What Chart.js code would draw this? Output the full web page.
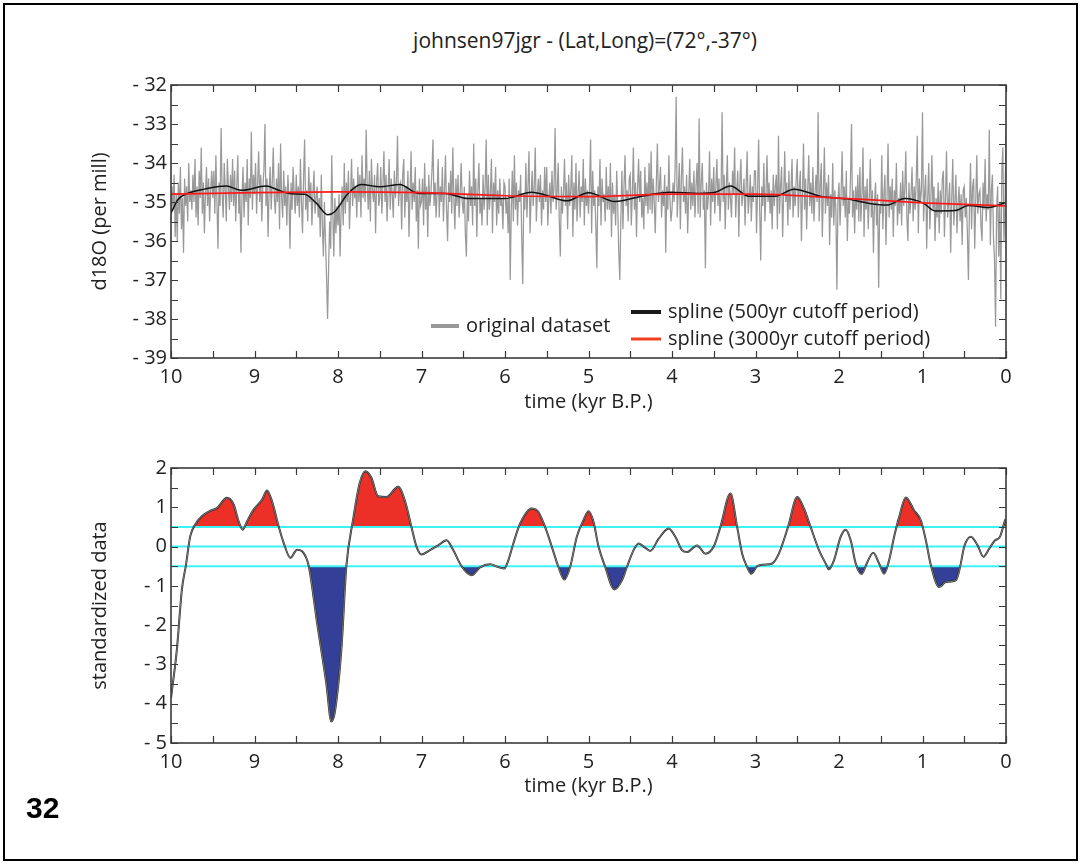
<!DOCTYPE html>
<html>
<head>
<meta charset="utf-8">
<script src="https://cdn.jsdelivr.net/npm/chart.js@4"></script>
<style>
  html, body { margin: 0; padding: 0; background: #fff; }
  body { width: 1081px; height: 865px; position: relative; overflow: hidden; font-family: "Open Sans", sans-serif; color: #222; }
  #frame { position: absolute; left: 3px; top: 3px; width: 1071px; height: 854px; border: 2px solid #000; }
  #title { position: absolute; left: 185px; width: 800px; top: 25px; text-align: center; font-size: 21px; line-height: 30px; }
  #page { position: absolute; left: 26px; top: 791px; font: bold 30px/34px "Liberation Sans", Arial, sans-serif; color: #000; }
  .box { position: absolute; left: 0; }
</style>
</head>
<body>
<div id="frame"></div>
<div id="title">johnsen97jgr - (Lat,Long)=(72°,-37°)</div>
<div class="box" style="top:0"><canvas id="top" width="1081" height="418"></canvas></div>
<div class="box" style="top:430px"><canvas id="bottom" width="1081" height="372"></canvas></div>
<div id="page">32</div>
<script>
// d18O record, one value every 12.5 yr from 10 kyr B.P. to present
const RAW_START = 10;
const RAW_STEP = 0.0125;
const rawD18O = [
  -35.5, -34.6, -35.2, -34.3, -35.9, -34.8, -36.0, -34.5, -35.3, -34.1, -35.7, -34.9, -36.3, -34.4, -35.1, -34.6, -35.5, -34.0, -35.0, -34.7,
  -35.2, -34.3, -35.0, -33.9, -35.4, -34.6, -35.6, -34.2, -34.9, -33.6, -35.3, -34.5, -35.8, -34.8, -34.1, -35.1, -34.4, -35.5, -34.7, -34.2,
  -34.9, -34.2, -35.3, -33.8, -35.0, -36.2, -34.5, -35.1, -33.1, -34.8, -35.4, -34.0, -34.7, -35.5, -33.9, -34.6, -35.2, -34.3, -35.0, -33.9,
  -35.1, -34.2, -35.5, -34.6, -33.8, -35.3, -34.7, -36.3, -34.9, -34.1, -35.4, -34.5, -35.0, -33.9, -35.6, -34.4, -34.9, -33.2, -35.2, -34.3,
  -34.8, -34.0, -35.3, -34.5, -33.7, -35.0, -34.3, -35.5, -34.6, -34.2, -33.0, -35.1, -34.4, -35.9, -34.7, -34.1, -35.2, -34.5, -33.6, -34.9,
  -35.3, -34.4, -35.0, -34.0, -35.7, -33.5, -34.9, -35.4, -34.2, -35.1, -34.6, -35.6, -34.3, -34.9, -36.2, -34.5, -35.2, -34.1, -34.8, -35.3,
  -34.3, -35.1, -34.6, -35.4, -33.9, -35.0, -35.8, -34.4, -33.4, -35.2, -34.7, -35.5, -34.1, -35.0, -34.5, -35.6, -34.8, -34.2, -35.3, -34.9,
  -34.6, -35.4, -34.9, -35.9, -34.3, -35.6, -36.4, -35.0, -36.0, -36.9, -38.0, -36.7, -35.5, -36.2, -33.8, -35.3, -36.4, -34.9, -35.8, -35.1,
  -35.6, -34.8, -36.4, -35.2, -34.6, -35.6, -34.0, -35.3, -34.5, -35.0, -34.2, -35.7, -34.8, -33.9, -35.1, -34.4, -34.9, -34.6, -35.4, -34.1,
  -35.0, -34.3, -35.4, -33.8, -34.9, -34.4, -35.0, -33.15, -34.6, -35.2, -34.2, -35.5, -33.9, -34.7, -35.0, -34.3, -35.8, -34.5, -34.0, -35.1,
  -34.9, -34.1, -35.3, -34.6, -33.7, -35.0, -34.3, -35.5, -34.7, -33.9, -35.2, -34.4, -34.8, -35.4, -34.2, -34.9, -34.5, -33.3, -35.1, -34.6,
  -34.5, -35.7, -34.3, -33.9, -35.4, -34.6, -35.0, -34.2, -35.9, -34.8, -33.7, -35.2, -34.5, -35.0, -34.1, -35.5, -34.7, -36.2, -34.4, -35.1,
  -35.0, -34.4, -35.6, -34.0, -35.2, -34.6, -35.9, -34.3, -35.1, -34.8, -34.2, -33.4, -35.1, -34.5, -35.4, -34.7, -33.9, -35.4, -34.6, -35.0,
  -34.1, -35.5, -34.7, -33.8, -35.2, -36.0, -34.5, -35.0, -34.2, -35.3, -33.6, -34.9, -35.7, -34.4, -35.1, -34.3, -35.4, -34.8, -34.0, -35.0,
  -35.3, -34.6, -35.8, -36.4, -34.8, -35.5, -34.2, -35.1, -34.6, -35.6, -33.5, -35.1, -34.4, -35.9, -34.7, -34.0, -35.3, -34.9, -35.6, -34.3,
  -35.2, -34.6, -33.4, -35.6, -34.3, -35.2, -34.8, -33.9, -35.8, -34.5, -35.0, -34.1, -35.6, -34.7, -35.3, -34.4, -35.1, -34.9, -35.7, -34.5,
  -34.6, -35.3, -34.9, -35.8, -34.4, -37.0, -35.2, -34.2, -35.5, -33.8, -35.2, -34.5, -35.6, -34.7, -35.0, -34.3, -35.9, -37.1, -34.8, -35.2,
  -34.0, -35.4, -34.6, -33.7, -35.8, -34.9, -34.2, -35.1, -34.6, -33.6, -35.5, -34.8, -34.4, -35.0, -34.3, -35.6, -34.7, -35.2, -34.1, -35.0,
  -34.1, -35.6, -34.9, -34.5, -35.3, -34.2, -35.0, -34.6, -33.1, -35.2, -34.7, -34.0, -35.5, -36.4, -34.6, -35.3, -34.8, -33.9, -35.1, -34.5,
  -35.7, -34.3, -35.1, -34.7, -33.8, -35.9, -34.5, -35.2, -34.0, -35.5, -34.8, -34.2, -35.4, -34.6, -35.0, -33.9, -35.6, -34.4, -35.1, -34.7,
  -35.3, -34.6, -33.4, -35.8, -34.2, -35.1, -34.7, -35.6, -36.7, -34.6, -35.1, -33.9, -35.6, -34.4, -35.0, -34.8, -35.5, -34.1, -35.2, -34.6,
  -35.2, -34.0, -35.9, -34.5, -35.3, -34.8, -35.6, -34.2, -35.1, -36.3, -37.0, -35.4, -34.2, -35.7, -34.6, -33.8, -35.1, -34.7, -35.5, -34.4,
  -34.3, -35.6, -34.8, -33.6, -35.2, -34.5, -35.9, -34.6, -33.9, -35.0, -34.2, -35.4, -34.9, -35.7, -34.1, -35.1, -34.5, -35.3, -34.0, -35.2,
  -33.7, -35.3, -34.4, -35.0, -35.8, -34.5, -33.5, -35.0, -34.6, -34.1, -35.4, -34.7, -35.1, -34.3, -36.3, -34.6, -35.2, -33.8, -34.9, -35.5,
  -35.2, -34.5, -35.0, -34.1, -32.3, -35.4, -34.7, -34.0, -35.7, -34.4, -33.6, -35.0, -34.6, -35.3, -34.3, -35.8, -34.8, -33.9, -35.2, -34.5,
  -35.1, -34.2, -35.4, -34.6, -34.0, -35.3, -32.85, -35.4, -34.5, -34.0, -35.2, -34.7, -36.7, -34.5, -35.2, -34.8, -33.7, -35.6, -34.4, -35.0,
  -34.1, -35.3, -34.6, -33.9, -35.1, -34.4, -35.5, -34.8, -32.7, -35.0, -34.3, -35.7, -34.6, -33.8, -35.2, -34.5, -34.9, -35.4, -34.2, -34.8,
  -33.6, -35.4, -34.7, -34.2, -35.9, -34.5, -33.9, -35.1, -34.8, -34.4, -35.6, -34.6, -33.7, -35.3, -34.9, -34.3, -35.5, -34.6, -35.0, -34.2,
  -34.2, -35.8, -34.7, -33.4, -35.2, -36.5, -34.6, -35.1, -34.0, -35.5, -34.8, -33.8, -35.0, -34.5, -35.3, -34.7, -35.7, -34.3, -35.1, -34.6,
  -34.3, -35.7, -33.3, -35.3, -34.6, -34.1, -35.9, -34.8, -33.7, -35.0, -34.5, -35.6, -34.2, -35.2, -34.7, -33.9, -35.4, -34.6, -35.1, -34.4,
  -33.9, -35.4, -34.6, -34.2, -36.0, -34.8, -33.5, -35.2, -34.4, -35.7, -34.7, -33.8, -35.1, -34.5, -35.3, -34.1, -35.5, -34.8, -34.3, -35.0,
  -32.7, -35.5, -34.6, -34.0, -35.9, -34.8, -33.6, -35.3, -34.5, -35.1, -34.3, -36.1, -34.8, -35.4, -34.0, -35.6, -34.7, -35.2, -37.25, -34.9,
  -34.5, -35.6, -34.8, -33.7, -35.1, -34.6, -35.4, -34.2, -36.0, -34.9, -35.3, -34.4, -33.0, -35.4, -34.7, -35.8, -34.6, -35.2, -34.3, -35.5,
  -34.1, -35.5, -34.8, -33.6, -35.9, -34.6, -35.2, -34.4, -35.7, -34.9, -33.9, -35.4, -34.7, -36.3, -35.0, -34.5, -35.6, -34.8, -37.2, -35.1,
  -35.3, -33.8, -35.7, -34.8, -34.3, -36.1, -34.9, -33.5, -35.4, -34.6, -35.2, -34.4, -35.9, -34.7, -35.1, -34.0, -35.6, -34.9, -35.3, -34.5,
  -35.6, -34.2, -35.1, -34.7, -33.7, -35.4, -36.0, -34.5, -35.3, -34.8, -34.1, -35.5, -34.6, -35.2, -34.4, -33.3, -35.8, -34.4, -35.0, -34.7,
  -32.7, -35.5, -34.8, -34.3, -36.2, -34.9, -34.0, -35.7, -35.0, -33.8, -35.2, -34.6, -36.0, -34.9, -35.4, -34.5, -35.8, -34.7, -35.3, -34.4,
  -34.2, -35.9, -34.9, -33.7, -35.4, -35.0, -34.5, -36.3, -34.9, -33.9, -35.6, -35.0, -34.3, -35.8, -35.1, -34.6, -35.5, -34.8, -36.1, -34.7,
  -34.6, -35.4, -34.9, -35.8, -37.0, -35.1, -34.0, -35.7, -34.6, -34.4, -36.2, -35.0, -33.8, -35.3, -34.8, -34.7, -35.6, -36.0, -34.5, -35.2,
  -33.9, -35.5, -34.8, -35.2, -33.15, -36.1, -34.7, -34.3, -35.9, -36.5, -38.2, -35.2, -34.6, -36.4, -35.0, -37.5, -34.2, -33.6, -36.0, -35.2,
  -33.1
];

// 500 yr cutoff spline
const spline500Age = [10.0, 9.92, 9.76, 9.60, 9.34, 9.16, 8.86, 8.72, 8.56, 8.40, 8.26, 8.12, 8.04, 7.88, 7.72,
  7.50, 7.26, 7.04, 6.72, 6.44, 6.00, 5.68, 5.52, 5.26, 5.00, 4.68, 4.36, 4.02, 3.68, 3.48, 3.30, 3.08,
  2.76, 2.54, 2.21, 1.91, 1.65, 1.43, 1.21, 0.99, 0.85, 0.61, 0.45, 0.21, 0.0];
const spline500 = [-35.29, -34.95, -34.75, -34.67, -34.59, -34.70, -34.59, -34.69, -34.79, -34.80, -35.03, -35.33, -35.25, -34.78, -34.55,
  -34.61, -34.55, -34.78, -34.78, -34.91, -34.91, -34.75, -34.82, -34.97, -34.76, -34.99, -34.85, -34.75, -34.78, -34.75, -34.59, -34.85,
  -34.85, -34.67, -34.86, -34.92, -35.03, -35.08, -34.91, -35.03, -35.23, -35.22, -35.09, -35.14, -35.01];

// 3000 yr cutoff spline
const spline3000Age = [10, 9, 8, 7, 6, 5, 4, 3, 2, 1, 0];
const spline3000 = [-34.80, -34.76, -34.74, -34.76, -34.84, -34.86, -34.80, -34.80, -34.90, -35.02, -35.10];

// standardized 500 yr spline
const stdAge = [10.0, 9.93, 9.87, 9.82, 9.77, 9.71, 9.63, 9.53, 9.45, 9.33, 9.25, 9.19, 9.14, 9.09, 9.01, 8.91, 8.85, 8.79,
  8.71, 8.65, 8.57, 8.49, 8.43, 8.35, 8.25, 8.14, 8.08, 8.04, 7.96, 7.90, 7.82, 7.74, 7.67, 7.60, 7.52, 7.42, 7.28,
  7.20, 7.12, 7.06, 7.00, 6.90, 6.80, 6.70, 6.62, 6.52, 6.40, 6.30, 6.18, 6.08, 6.01, 5.96, 5.90, 5.82, 5.68, 5.60,
  5.52, 5.44, 5.36, 5.29, 5.22, 5.14, 5.06, 5.00, 4.94, 4.88, 4.80, 4.69, 4.60, 4.54, 4.46, 4.40, 4.34, 4.26, 4.16,
  4.04, 3.96, 3.88, 3.82, 3.70, 3.60, 3.50, 3.42, 3.30, 3.22, 3.16, 3.10, 3.05, 2.98, 2.90, 2.80, 2.72, 2.61, 2.50,
  2.42, 2.34, 2.24, 2.16, 2.12, 2.06, 1.98, 1.92, 1.86, 1.80, 1.73, 1.66, 1.59, 1.52, 1.46, 1.40, 1.34, 1.28, 1.20,
  1.10, 1.02, 0.96, 0.90, 0.80, 0.72, 0.60, 0.55, 0.50, 0.42, 0.34, 0.27, 0.20, 0.14, 0.07, 0.01, 0.0];
const stdValue = [-3.85, -2.63, -1.10, -0.46, 0.26, 0.56, 0.77, 0.91, 0.98, 1.24, 1.07, 0.64, 0.43, 0.64, 0.94, 1.19, 1.43, 1.15,
  0.51, 0.09, -0.29, -0.08, -0.12, -0.50, -1.95, -3.48, -4.45, -4.24, -2.63, -0.50, 0.68, 1.62, 1.92, 1.75, 1.28, 1.26, 1.52,
  1.18, 0.50, 0.00, -0.20, -0.09, 0.03, 0.16, -0.09, -0.50, -0.73, -0.53, -0.45, -0.52, -0.56, -0.35, 0.08, 0.58, 0.97, 0.88,
  0.50, 0.00, -0.52, -0.84, -0.52, 0.25, 0.67, 0.90, 0.63, 0.00, -0.52, -1.09, -0.86, -0.52, -0.09, 0.08, 0.00, -0.11, 0.20,
  0.46, 0.25, -0.09, -0.14, 0.03, -0.18, 0.00, 0.50, 1.35, 0.50, -0.18, -0.52, -0.69, -0.50, -0.46, -0.43, -0.18, 0.50, 1.26,
  0.97, 0.50, -0.09, -0.43, -0.58, -0.35, 0.25, 0.43, 0.16, -0.43, -0.70, -0.39, -0.16, -0.43, -0.69, -0.35, 0.25, 0.75, 1.25,
  0.92, 0.67, 0.16, -0.47, -1.03, -0.90, -0.86, -0.52, 0.00, 0.25, 0.03, -0.26, -0.05, 0.14, 0.26, 0.67, 0.70];
// cold events are only shaded once the curve has left the start-up edge
const COLD_FROM = 4;

// warm / cold thresholds
const thresholds = [0.5, 0, -0.5];

const pts = (xs, ys) => xs.map((x, i) => ({ x, y: ys[i] }));
const rawPoints = rawD18O.map((v, i) => ({ x: RAW_START - i * RAW_STEP, y: v }));
const stdPoints = pts(stdAge, stdValue);

const FONT = { family: '"Open Sans", sans-serif', size: 20 };
const INK = '#222';
const minusLabel = v => (v < 0 ? '- ' + Math.abs(v) : String(v));

// box with inward ticks every half unit on all four sides
const frameTicks = {
  id: 'frameTicks',
  afterDatasetsDraw(chart) {
    const { ctx, chartArea: a, scales: { x, y } } = chart;
    ctx.save();
    ctx.strokeStyle = '#3a3a3a';
    ctx.lineWidth = 1.2;
    ctx.beginPath();
    for (let v = x.min; v <= x.max + 1e-9; v += 0.5) {
      const px = Math.round(x.getPixelForValue(v)) + 0.5;
      ctx.moveTo(px, a.top); ctx.lineTo(px, a.top + 7);
      ctx.moveTo(px, a.bottom); ctx.lineTo(px, a.bottom - 7);
    }
    for (let v = y.min; v <= y.max + 1e-9; v += 0.5) {
      const py = Math.round(y.getPixelForValue(v)) + 0.5;
      ctx.moveTo(a.left, py); ctx.lineTo(a.left + 7, py);
      ctx.moveTo(a.right, py); ctx.lineTo(a.right - 7, py);
    }
    ctx.stroke();
    ctx.lineWidth = 1.6;
    ctx.strokeRect(a.left, a.top, a.right - a.left, a.bottom - a.top);
    ctx.restore();
  }
};

// legend placed inside the lower part of the top panel
const insideLegend = {
  id: 'insideLegend',
  afterDraw(chart) {
    const { ctx } = chart;
    const rows = [
      { sw: [431, 459, 326], color: '#999', w: 4, text: 'original dataset', tx: 466 },
      { sw: [631, 661, 312], color: '#1a1a1a', w: 4, text: 'spline (500yr cutoff period)', tx: 668 },
      { sw: [631, 661, 339], color: '#f04020', w: 3, text: 'spline (3000yr cutoff period)', tx: 668 }
    ];
    ctx.save();
    ctx.font = FONT.size + 'px ' + FONT.family;
    ctx.textBaseline = 'middle';
    ctx.fillStyle = INK;
    rows.forEach(r => {
      ctx.strokeStyle = r.color;
      ctx.lineWidth = r.w;
      ctx.beginPath();
      ctx.moveTo(r.sw[0], r.sw[2]);
      ctx.lineTo(r.sw[1], r.sw[2]);
      ctx.stroke();
      ctx.fillText(r.text, r.tx, r.sw[2]);
    });
    ctx.restore();
  }
};

const xScale = (height) => ({
  type: 'linear', min: 0, max: 10, reverse: true,
  grid: { display: false, drawTicks: false },
  border: { display: false },
  ticks: { stepSize: 1, padding: 7, color: INK, font: FONT, maxRotation: 0 },
  title: { display: true, text: 'time (kyr B.P.)', color: INK, font: FONT, padding: { top: 0, bottom: 4 } },
  afterFit(s) { s.height = height; }
});

const yScale = (min, max, title) => ({
  min, max,
  grid: { display: false, drawTicks: false },
  border: { display: false },
  ticks: { stepSize: 1, padding: 4, color: INK, font: FONT, callback: minusLabel },
  title: { display: true, text: title, color: INK, font: FONT, padding: { top: 3, bottom: 0 } },
  afterFit(s) { s.width = 86; }
});

new Chart(document.getElementById('top'), {
  type: 'line',
  data: {
    datasets: [
      { label: 'spline (3000yr cutoff period)', data: pts(spline3000Age, spline3000), borderColor: '#ff1a1a',
        borderWidth: 1.7, pointRadius: 0, cubicInterpolationMode: 'monotone', order: 1 },
      { label: 'spline (500yr cutoff period)', data: pts(spline500Age, spline500), borderColor: '#111',
        borderWidth: 1.5, pointRadius: 0, cubicInterpolationMode: 'monotone', order: 2 },
      { label: 'original dataset', data: rawPoints, borderColor: '#999', borderWidth: 1.25,
        pointRadius: 0, tension: 0, order: 3 }
    ]
  },
  options: {
    responsive: false,
    animation: false,
    layout: { padding: { left: 85, right: 75, top: 85, bottom: 0 } },
    plugins: { legend: { display: false }, tooltip: { enabled: false } },
    scales: { x: xScale(60), y: yScale(-39, -32, 'd18O (per mill)') }
  },
  plugins: [frameTicks, insideLegend]
});

new Chart(document.getElementById('bottom'), {
  type: 'line',
  data: {
    datasets: [
      { data: stdPoints, borderColor: '#a0a0a0', borderWidth: 0.7, pointRadius: 0,
        cubicInterpolationMode: 'monotone', order: 0 },
      { data: stdPoints, borderColor: '#2a2a2a', borderWidth: 2, pointRadius: 0,
        cubicInterpolationMode: 'monotone', order: 1 },
      ...thresholds.map(t => ({
        data: [{ x: 10, y: t }, { x: 0, y: t }], borderColor: '#3af4f4', borderWidth: 2,
        pointRadius: 0, order: 2
      })),
      { data: stdPoints, borderWidth: 0, pointRadius: 0, cubicInterpolationMode: 'monotone', order: 3,
        fill: { target: { value: thresholds[0] }, above: '#ec2f27', below: 'rgba(0,0,0,0)' } },
      { data: stdPoints.slice(COLD_FROM), borderWidth: 0, pointRadius: 0, cubicInterpolationMode: 'monotone', order: 3,
        fill: { target: { value: thresholds[2] }, above: 'rgba(0,0,0,0)', below: '#343f98' } }
    ]
  },
  options: {
    responsive: false,
    animation: false,
    layout: { padding: { left: 85, right: 75, top: 38, bottom: 0 } },
    plugins: { legend: { display: false }, tooltip: { enabled: false } },
    scales: { x: xScale(59), y: yScale(-5, 2, 'standardized data') }
  },
  plugins: [frameTicks]
});
</script>
</body>
</html>
